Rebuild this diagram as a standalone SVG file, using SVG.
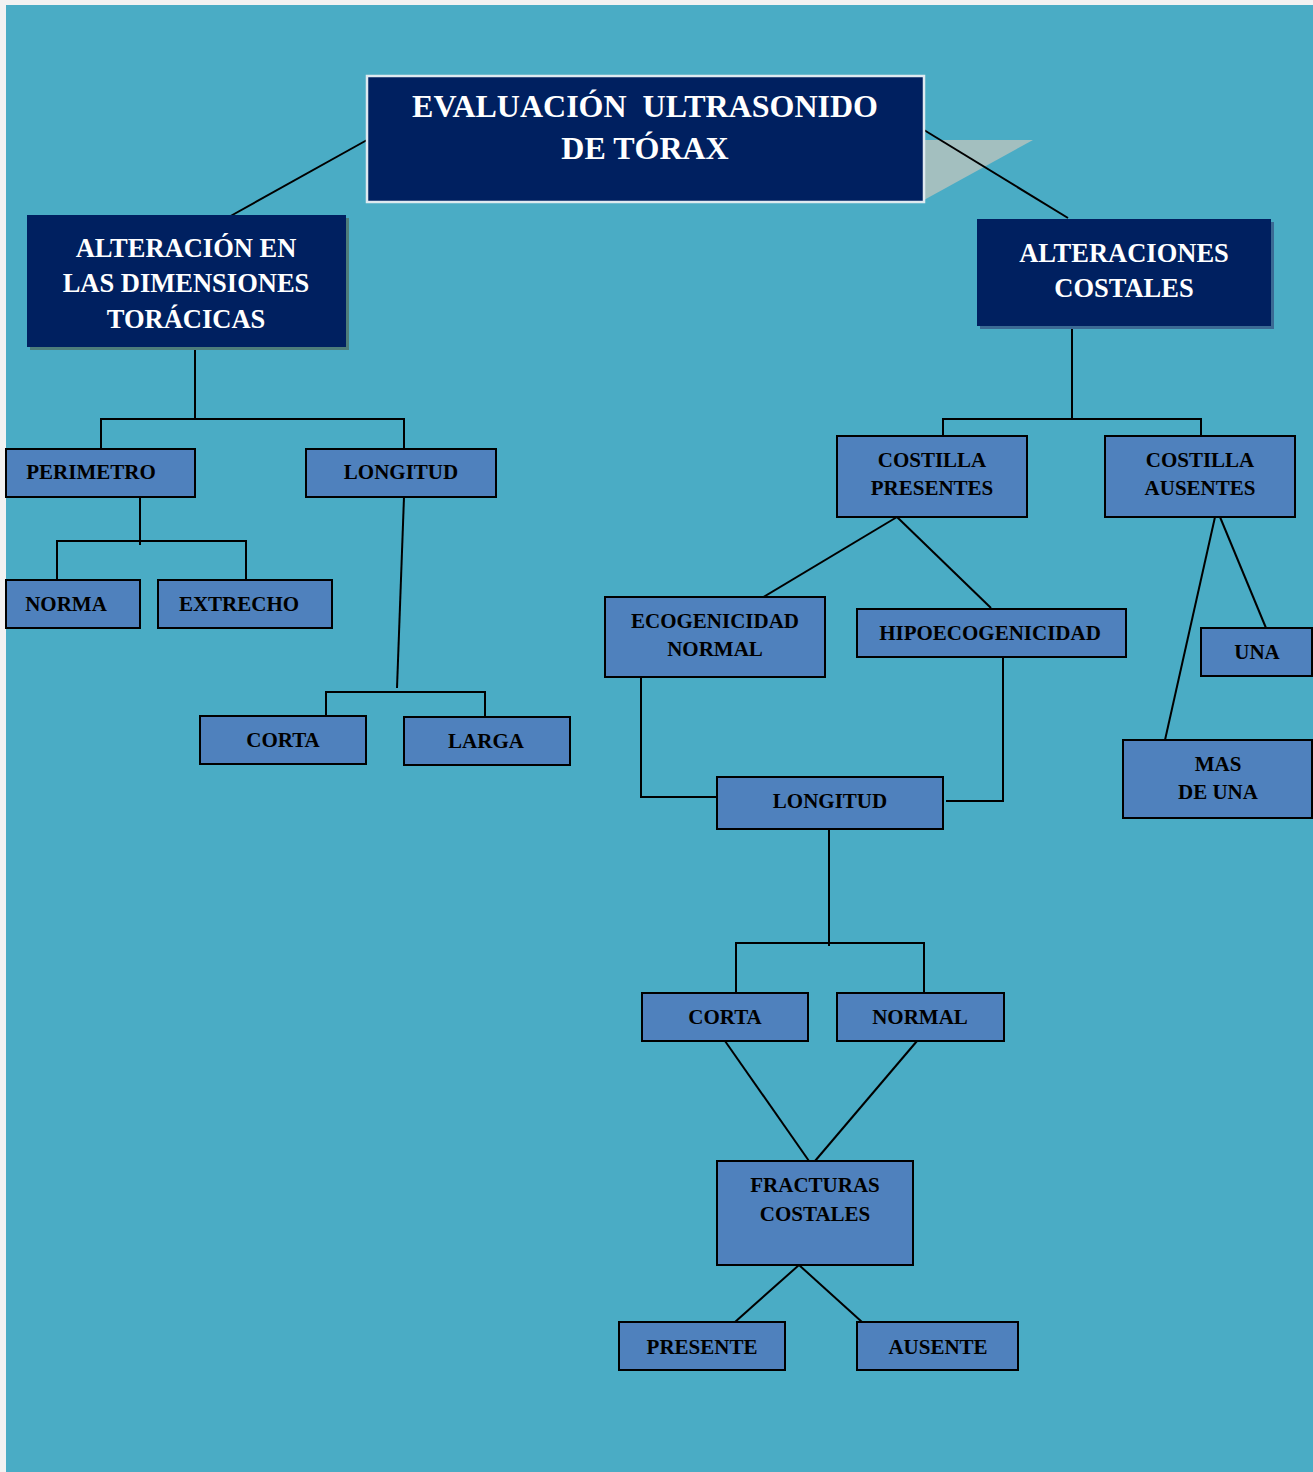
<svg xmlns="http://www.w3.org/2000/svg" width="1313" height="1472" viewBox="0 0 1313 1472">
<style>
.box{fill:#4f81bd;stroke:#000;stroke-width:2}
.hdr{fill:#002060}
.t{font-family:"Liberation Serif","Times New Roman",serif;font-weight:bold;font-size:21px;fill:#000;text-anchor:middle}
.h{font-family:"Liberation Serif","Times New Roman",serif;font-weight:bold;font-size:26.5px;fill:#fff;text-anchor:middle}
.c{fill:none;stroke:#000;stroke-width:2}
</style>
<rect x="0" y="0" width="1313" height="1472" fill="#f2f2f2"/>
<rect x="6" y="5" width="1307" height="1467" fill="#4aacc5"/>
<polygon points="924,140 1033,140 924,200" fill="#a3bfbf"/>
<g id="connectors" class="c">
<polyline points="367,140 227,218"/>
<polyline points="924,130 1068,218"/>
<polyline points="195,347 195,419"/>
<polyline points="101,449 101,419 404,419 404,449"/>
<polyline points="140,497 140,545"/>
<polyline points="57,580 57,541 246,541 246,580"/>
<polyline points="404,497 397,688"/>
<polyline points="326,716 326,692 485,692 485,717"/>
<polyline points="1072,326 1072,419"/>
<polyline points="943,436 943,419 1201,419 1201,436"/>
<polyline points="897,517 760,599"/>
<polyline points="897,517 991,608"/>
<polyline points="1215,517 1165,740"/>
<polyline points="1220,517 1266,628"/>
<polyline points="641,673 641,797 717,797"/>
<polyline points="1003,657 1003,801 946,801"/>
<polyline points="829,829 829,946"/>
<polyline points="736,993 736,943 924,943 924,993"/>
<polyline points="725,1041 809,1161"/>
<polyline points="917,1041 815,1161"/>
<polyline points="799,1265 735,1322"/>
<polyline points="799,1265 862,1322"/>
</g>
<g id="n-title">
<rect x="367" y="76" width="557" height="126" class="hdr" stroke="#dfe9f0" stroke-width="2.5"/>
<text x="645" y="117" xml:space="preserve" font-family="Liberation Serif,Times New Roman,serif" font-weight="bold" font-size="32" fill="#fff" text-anchor="middle">EVALUACIÓN  ULTRASONIDO</text>
<text x="645" y="159" font-family="Liberation Serif,Times New Roman,serif" font-weight="bold" font-size="32" fill="#fff" text-anchor="middle">DE TÓRAX</text>
</g>
<g id="n-dimensiones">
<rect x="30" y="218" width="319" height="132" fill="#4e7d7a"/>
<rect x="27" y="215" width="319" height="132" class="hdr"/>
<text x="186" y="257" class="h">ALTERACIÓN EN</text>
<text x="186" y="292" class="h">LAS DIMENSIONES</text>
<text x="186" y="328" class="h">TORÁCICAS</text>
</g>
<g id="n-costales">
<rect x="980" y="222" width="294" height="107" fill="#3b6a94"/>
<rect x="977" y="219" width="294" height="107" class="hdr"/>
<text x="1124" y="262" class="h">ALTERACIONES</text>
<text x="1124" y="297" class="h">COSTALES</text>
</g>
<g id="n-perimetro"><rect x="6" y="449" width="189" height="48" class="box"/><text x="91" y="479" class="t">PERIMETRO</text></g>
<g id="n-longitud1"><rect x="306" y="449" width="190" height="48" class="box"/><text x="401" y="479" class="t">LONGITUD</text></g>
<g id="n-norma"><rect x="6" y="580" width="134" height="48" class="box"/><text x="66" y="611" class="t">NORMA</text></g>
<g id="n-extrecho"><rect x="158" y="580" width="174" height="48" class="box"/><text x="239" y="611" class="t">EXTRECHO</text></g>
<g id="n-corta1"><rect x="200" y="716" width="166" height="48" class="box"/><text x="283" y="747" class="t">CORTA</text></g>
<g id="n-larga"><rect x="404" y="717" width="166" height="48" class="box"/><text x="486" y="748" class="t">LARGA</text></g>
<g id="n-presentes"><rect x="837" y="436" width="190" height="81" class="box"/><text x="932" y="467" class="t">COSTILLA</text><text x="932" y="495" class="t">PRESENTES</text></g>
<g id="n-ausentes"><rect x="1105" y="436" width="190" height="81" class="box"/><text x="1200" y="467" class="t">COSTILLA</text><text x="1200" y="495" class="t">AUSENTES</text></g>
<g id="n-ecogenicidad"><rect x="605" y="597" width="220" height="80" class="box"/><text x="715" y="628" class="t">ECOGENICIDAD</text><text x="715" y="656" class="t">NORMAL</text></g>
<g id="n-hipo"><rect x="857" y="609" width="269" height="48" class="box"/><text x="990" y="640" class="t">HIPOECOGENICIDAD</text></g>
<g id="n-una"><rect x="1201" y="628" width="111" height="48" class="box"/><text x="1257" y="659" class="t">UNA</text></g>
<g id="n-masdeuna"><rect x="1123" y="740" width="189" height="78" class="box"/><text x="1218" y="771" class="t">MAS</text><text x="1218" y="799" class="t">DE UNA</text></g>
<g id="n-longitud2"><rect x="717" y="777" width="226" height="52" class="box"/><text x="830" y="808" class="t">LONGITUD</text></g>
<g id="n-corta2"><rect x="642" y="993" width="166" height="48" class="box"/><text x="725" y="1024" class="t">CORTA</text></g>
<g id="n-normal"><rect x="837" y="993" width="167" height="48" class="box"/><text x="920" y="1024" class="t">NORMAL</text></g>
<g id="n-fracturas"><rect x="717" y="1161" width="196" height="104" class="box"/><text x="815" y="1192" class="t">FRACTURAS</text><text x="815" y="1221" class="t">COSTALES</text></g>
<g id="n-presente"><rect x="619" y="1322" width="166" height="48" class="box"/><text x="702" y="1354" class="t">PRESENTE</text></g>
<g id="n-ausente"><rect x="857" y="1322" width="161" height="48" class="box"/><text x="938" y="1354" class="t">AUSENTE</text></g>
</svg>
